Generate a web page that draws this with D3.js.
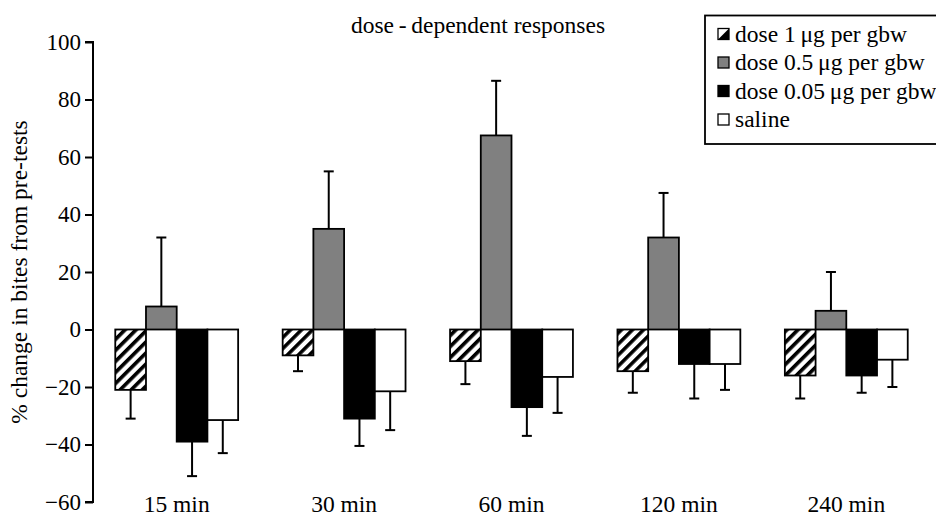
<!DOCTYPE html>
<html>
<head>
<meta charset="utf-8">
<script src="https://cdn.jsdelivr.net/npm/d3@7"></script>
<style>
  body { margin: 0; background: #fff; }
  svg text { font-family: "Liberation Serif", "DejaVu Serif", serif; }
</style>
</head>
<body>
<div id="chart"></div>
<script>
// ------------------------------------------------------------
// Data
// ------------------------------------------------------------
const times = ["15 min", "30 min", "60 min", "120 min", "240 min"];
const seriesNames = ["dose 1\u2009μg per gbw", "dose 0.5\u2009μg per gbw", "dose 0.05\u2009μg per gbw", "saline"];
const seriesKeys = ["d1", "d05", "d005", "saline"];

const dose1 = [-21, -9, -11, -14.5, -16];
const dose1Err = [10, 5.5, 8, 7.5, 8];
const dose05 = [8, 35, 67.5, 32, 6.5];
const dose05Err = [24, 20, 19, 15.5, 13.5];
const dose005 = [-39, -31, -27, -12, -16];
const dose005Err = [12, 9.5, 10, 12, 6];
const saline = [-31.5, -21.5, -16.5, -12, -10.5];
const salineErr = [11.5, 13.5, 12.5, 9, 9.5];

const yTicks = [-60, -40, -20, 0, 20, 40, 60, 80, 100];

const values = [dose1, dose05, dose005, saline];
const errors = [dose1Err, dose05Err, dose005Err, salineErr];

const rows = [];
times.forEach((t, i) => {
  seriesKeys.forEach((k, j) => {
    rows.push({ time: t, key: k, value: values[j][i], err: errors[j][i] });
  });
});

// ------------------------------------------------------------
// Layout
// ------------------------------------------------------------
const width = 936, height = 515;
const font = "Liberation Serif";
const fills = { d1: "url(#hatch)", d05: "#808080", d005: "#000", saline: "#fff" };

const svg = d3.select("#chart").append("svg")
  .attr("width", width)
  .attr("height", height);

const defs = svg.append("defs");
const pat = defs.append("pattern")
  .attr("id", "hatch")
  .attr("patternUnits", "userSpaceOnUse")
  .attr("width", 7.8)
  .attr("height", 7.8)
  .attr("patternTransform", "rotate(45)");
pat.append("rect").attr("width", 7.8).attr("height", 7.8).attr("fill", "#fff");
pat.append("rect").attr("width", 3.6).attr("height", 7.8).attr("fill", "#000");

const x = d3.scaleBand()
  .domain(times)
  .range([93, 930])
  .paddingInner(0.266)
  .paddingOuter(0.133);

const xSub = d3.scaleBand()
  .domain(seriesKeys)
  .range([0, x.bandwidth()]);

const y = d3.scaleLinear()
  .domain([-60, 100])
  .range([502, 42]);

// Y axis
const yAxis = svg.append("g")
  .attr("transform", "translate(93,0)")
  .call(d3.axisLeft(y).tickValues(yTicks).tickSize(8).tickPadding(4));
yAxis.select(".domain").attr("stroke-width", 2).attr("d", `M-8,${y(100)}H0V${y(-60)}H-8`);
yAxis.selectAll(".tick line").attr("stroke-width", 2);
yAxis.selectAll(".tick text")
  .attr("font-family", font)
  .attr("font-size", 23)
  .attr("fill", "#000");

// Y label
svg.append("text")
  .attr("transform", `translate(27,${y(20)}) rotate(-90)`)
  .attr("text-anchor", "middle")
  .attr("font-family", font)
  .attr("font-size", 23.5)
  .text("% change in bites from pre-tests");

// X labels
svg.append("g")
  .selectAll("text")
  .data(times)
  .join("text")
  .attr("x", d => x(d) + x.bandwidth() / 2)
  .attr("y", 512)
  .attr("text-anchor", "middle")
  .attr("font-family", font)
  .attr("font-size", 23.5)
  .text(d => d);

// Error bars
const eb = svg.append("g").attr("stroke", "#000").attr("stroke-width", 2);
rows.forEach(d => {
  const cx = x(d.time) + xSub(d.key) + xSub.bandwidth() / 2;
  const end = d.value >= 0 ? d.value + d.err : d.value - d.err;
  eb.append("line")
    .attr("x1", cx).attr("x2", cx)
    .attr("y1", y(d.value)).attr("y2", y(end));
  eb.append("line")
    .attr("x1", cx - 5).attr("x2", cx + 5)
    .attr("y1", y(end)).attr("y2", y(end));
});

// Bars
svg.append("g")
  .selectAll("rect")
  .data(rows)
  .join("rect")
  .attr("x", d => x(d.time) + xSub(d.key))
  .attr("width", xSub.bandwidth())
  .attr("y", d => y(Math.max(0, d.value)))
  .attr("height", d => Math.abs(y(d.value) - y(0)))
  .attr("fill", d => fills[d.key])
  .attr("stroke", "#000")
  .attr("stroke-width", 1.8);

// Title
svg.append("text")
  .attr("x", 478)
  .attr("y", 33)
  .attr("text-anchor", "middle")
  .attr("font-family", font)
  .attr("font-size", 23.5)
  .text("dose\u2009-\u2009dependent responses");

// Legend
const lg = svg.append("g");
lg.append("rect")
  .attr("x", 705).attr("y", 15.5)
  .attr("width", 260).attr("height", 128.5)
  .attr("fill", "#fff")
  .attr("stroke", "#000")
  .attr("stroke-width", 1.8);

const rowY = d3.scalePoint().domain(seriesKeys).range([34, 119.5]);

seriesKeys.forEach((k, i) => {
  const cy = rowY(k);
  const sx = 718, s = 11;
  if (k === "d1") {
    lg.append("rect").attr("x", sx).attr("y", cy - s / 2).attr("width", s).attr("height", s)
      .attr("fill", "#fff").attr("stroke", "#000").attr("stroke-width", 1.3);
    lg.append("path")
      .attr("d", `M${sx},${cy + s / 2}L${sx + s},${cy - s / 2}L${sx + s},${cy + s / 2}Z`)
      .attr("fill", "#000");
  } else {
    lg.append("rect").attr("x", sx).attr("y", cy - s / 2).attr("width", s).attr("height", s)
      .attr("fill", fills[k]).attr("stroke", "#000").attr("stroke-width", 1.3);
  }
  lg.append("text")
    .attr("x", 735)
    .attr("y", cy + 7.5)
    .attr("font-family", font)
    .attr("font-size", 23.5)
    .text(seriesNames[i]);
});
</script>
</body>
</html>
